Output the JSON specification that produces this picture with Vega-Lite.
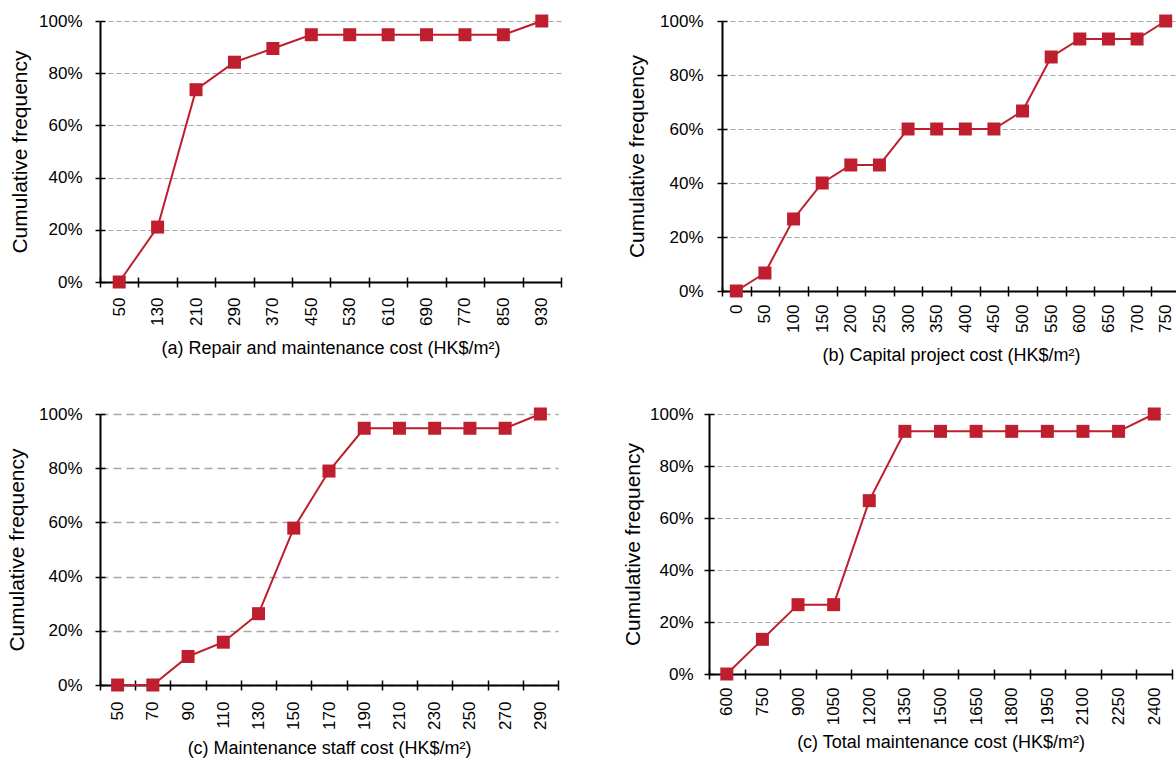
{
  "$schema": "https://vega.github.io/schema/vega-lite/v6.json",
  "padding": {"left": 6, "top": 12, "right": 0, "bottom": 0},
  "background": "white",
  "align": "none",
  "datasets": {
    "repair": [
      {"cost": 50, "freq": 0},
      {"cost": 130, "freq": 0.2105},
      {"cost": 210, "freq": 0.7368},
      {"cost": 290, "freq": 0.8421},
      {"cost": 370, "freq": 0.8947},
      {"cost": 450, "freq": 0.9474},
      {"cost": 530, "freq": 0.9474},
      {"cost": 610, "freq": 0.9474},
      {"cost": 690, "freq": 0.9474},
      {"cost": 770, "freq": 0.9474},
      {"cost": 850, "freq": 0.9474},
      {"cost": 930, "freq": 1}
    ],
    "capital": [
      {"cost": 0, "freq": 0},
      {"cost": 50, "freq": 0.0667},
      {"cost": 100, "freq": 0.2667},
      {"cost": 150, "freq": 0.4},
      {"cost": 200, "freq": 0.4667},
      {"cost": 250, "freq": 0.4667},
      {"cost": 300, "freq": 0.6},
      {"cost": 350, "freq": 0.6},
      {"cost": 400, "freq": 0.6},
      {"cost": 450, "freq": 0.6},
      {"cost": 500, "freq": 0.6667},
      {"cost": 550, "freq": 0.8667},
      {"cost": 600, "freq": 0.9333},
      {"cost": 650, "freq": 0.9333},
      {"cost": 700, "freq": 0.9333},
      {"cost": 750, "freq": 1}
    ],
    "staff": [
      {"cost": 50, "freq": 0},
      {"cost": 70, "freq": 0},
      {"cost": 90, "freq": 0.1053},
      {"cost": 110, "freq": 0.1579},
      {"cost": 130, "freq": 0.2632},
      {"cost": 150, "freq": 0.5789},
      {"cost": 170, "freq": 0.7895},
      {"cost": 190, "freq": 0.9474},
      {"cost": 210, "freq": 0.9474},
      {"cost": 230, "freq": 0.9474},
      {"cost": 250, "freq": 0.9474},
      {"cost": 270, "freq": 0.9474},
      {"cost": 290, "freq": 1}
    ],
    "total": [
      {"cost": 600, "freq": 0},
      {"cost": 750, "freq": 0.1333},
      {"cost": 900, "freq": 0.2667},
      {"cost": 1050, "freq": 0.2667},
      {"cost": 1200, "freq": 0.6667},
      {"cost": 1350, "freq": 0.9333},
      {"cost": 1500, "freq": 0.9333},
      {"cost": 1650, "freq": 0.9333},
      {"cost": 1800, "freq": 0.9333},
      {"cost": 1950, "freq": 0.9333},
      {"cost": 2100, "freq": 0.9333},
      {"cost": 2250, "freq": 0.9333},
      {"cost": 2400, "freq": 1}
    ]
  },
  "vconcat": [
    {
      "spacing": 64,
      "hconcat": [
        {
          "data": {"name": "repair"},
          "width": 461,
          "height": 261,
          "layer": [
            {
              "mark": {"type": "line", "color": "#BE1E2D", "strokeWidth": 2},
              "encoding": {
                "x": {"field": "cost", "type": "ordinal", "sort": "ascending",
                      "scale": {"type": "band", "paddingInner": 0, "paddingOuter": 0},
                      "axis": {"orient": "bottom", "title": "(a) Repair and maintenance cost (HK$/m²)", "labelAngle": 270, "tickBand": "extent", "labelPadding": 10, "titlePadding": 14}},
                "y": {"field": "freq", "type": "quantitative",
                      "scale": {"domain": [0, 1], "nice": false},
                      "axis": {"orient": "left", "title": "Cumulative frequency", "format": ".0%", "values": [0, 0.2, 0.4, 0.6, 0.8, 1], "grid": true, "gridDash": [5, 3], "labelPadding": 13, "titlePadding": 8}}
              }
            },
            {
              "mark": {"type": "point", "shape": "square", "filled": true, "size": 169, "opacity": 1, "color": "#BE1E2D"},
              "encoding": {
                "x": {"field": "cost", "type": "ordinal", "sort": "ascending",
                      "axis": {"orient": "bottom", "title": null, "labels": false, "domain": false, "grid": false, "tickBand": "extent", "tickSize": -5}},
                "y": {"field": "freq", "type": "quantitative",
                      "axis": {"orient": "left", "title": null, "labels": false, "domain": false, "grid": false, "values": [0, 0.2, 0.4, 0.6, 0.8, 1], "tickSize": -5}}
              }
            }
          ],
          "resolve": {"axis": {"x": "independent", "y": "independent"}}
        },
        {
          "data": {"name": "capital"},
          "width": 458,
          "height": 270,
          "layer": [
            {
              "mark": {"type": "line", "color": "#BE1E2D", "strokeWidth": 2},
              "encoding": {
                "x": {"field": "cost", "type": "ordinal", "sort": "ascending",
                      "scale": {"type": "band", "paddingInner": 0, "paddingOuter": 0},
                      "axis": {"orient": "bottom", "title": "(b) Capital project cost (HK$/m²)", "labelAngle": 270, "tickBand": "extent", "labelPadding": 8, "titlePadding": 14}},
                "y": {"field": "freq", "type": "quantitative",
                      "scale": {"domain": [0, 1], "nice": false},
                      "axis": {"orient": "left", "title": "Cumulative frequency", "format": ".0%", "values": [0, 0.2, 0.4, 0.6, 0.8, 1], "grid": true, "gridDash": [5, 3], "labelPadding": 14, "titlePadding": 12}}
              }
            },
            {
              "mark": {"type": "point", "shape": "square", "filled": true, "size": 169, "opacity": 1, "color": "#BE1E2D"},
              "encoding": {
                "x": {"field": "cost", "type": "ordinal", "sort": "ascending",
                      "axis": {"orient": "bottom", "title": null, "labels": false, "domain": false, "grid": false, "tickBand": "extent", "tickSize": -5}},
                "y": {"field": "freq", "type": "quantitative",
                      "axis": {"orient": "left", "title": null, "labels": false, "domain": false, "grid": false, "values": [0, 0.2, 0.4, 0.6, 0.8, 1], "tickSize": -5}}
              }
            }
          ],
          "resolve": {"axis": {"x": "independent", "y": "independent"}}
        }
      ]
    },
    {
      "spacing": 63,
      "hconcat": [
        {
          "data": {"name": "staff"},
          "width": 458,
          "height": 271,
          "layer": [
            {
              "mark": {"type": "line", "color": "#BE1E2D", "strokeWidth": 2},
              "encoding": {
                "x": {"field": "cost", "type": "ordinal", "sort": "ascending",
                      "scale": {"type": "band", "paddingInner": 0, "paddingOuter": 0},
                      "axis": {"orient": "bottom", "title": "(c) Maintenance staff cost (HK$/m²)", "labelAngle": 270, "tickBand": "extent", "labelPadding": 11, "titlePadding": 10}},
                "y": {"field": "freq", "type": "quantitative",
                      "scale": {"domain": [0, 1], "nice": false},
                      "axis": {"orient": "left", "title": "Cumulative frequency", "format": ".0%", "values": [0, 0.2, 0.4, 0.6, 0.8, 1], "grid": true, "gridDash": [8, 5], "gridWidth": 1.5, "labelPadding": 13, "titlePadding": 11}}
              }
            },
            {
              "mark": {"type": "point", "shape": "square", "filled": true, "size": 169, "opacity": 1, "color": "#BE1E2D"},
              "encoding": {
                "x": {"field": "cost", "type": "ordinal", "sort": "ascending",
                      "axis": {"orient": "bottom", "title": null, "labels": false, "domain": false, "grid": false, "tickBand": "extent", "tickSize": -5}},
                "y": {"field": "freq", "type": "quantitative",
                      "axis": {"orient": "left", "title": null, "labels": false, "domain": false, "grid": false, "values": [0, 0.2, 0.4, 0.6, 0.8, 1], "tickSize": -5}}
              }
            }
          ],
          "resolve": {"axis": {"x": "independent", "y": "independent"}}
        },
        {
          "data": {"name": "total"},
          "width": 463,
          "height": 260,
          "layer": [
            {
              "mark": {"type": "line", "color": "#BE1E2D", "strokeWidth": 2},
              "encoding": {
                "x": {"field": "cost", "type": "ordinal", "sort": "ascending",
                      "scale": {"type": "band", "paddingInner": 0, "paddingOuter": 0},
                      "axis": {"orient": "bottom", "title": "(c) Total maintenance cost (HK$/m²)", "labelAngle": 270, "tickBand": "extent", "labelPadding": 8, "titlePadding": 9}},
                "y": {"field": "freq", "type": "quantitative",
                      "scale": {"domain": [0, 1], "nice": false},
                      "axis": {"orient": "left", "title": "Cumulative frequency", "format": ".0%", "values": [0, 0.2, 0.4, 0.6, 0.8, 1], "grid": true, "gridDash": [5, 3], "labelPadding": 11, "titlePadding": 6}}
              }
            },
            {
              "mark": {"type": "point", "shape": "square", "filled": true, "size": 169, "opacity": 1, "color": "#BE1E2D"},
              "encoding": {
                "x": {"field": "cost", "type": "ordinal", "sort": "ascending",
                      "axis": {"orient": "bottom", "title": null, "labels": false, "domain": false, "grid": false, "tickBand": "extent", "tickSize": -5}},
                "y": {"field": "freq", "type": "quantitative",
                      "axis": {"orient": "left", "title": null, "labels": false, "domain": false, "grid": false, "values": [0, 0.2, 0.4, 0.6, 0.8, 1], "tickSize": -5}}
              }
            }
          ],
          "resolve": {"axis": {"x": "independent", "y": "independent"}}
        }
      ]
    }
  ],
  "spacing": 40,
  "config": {
    "view": {"stroke": null},
    "font": "Liberation Sans",
    "axis": {
      "labelFont": "Liberation Sans",
      "titleFont": "Liberation Sans",
      "labelFontSize": 17,
      "titleFontSize": 18,
      "titleFontWeight": "normal",
      "labelColor": "#000000",
      "titleColor": "#000000",
      "domainColor": "#000000",
      "domainWidth": 2,
      "tickColor": "#000000",
      "tickWidth": 1.5,
      "tickSize": 5,
      "gridColor": "#a6a6a6",
      "gridWidth": 1
    },
    "axisY": {"titleFontSize": 21}
  }
}
